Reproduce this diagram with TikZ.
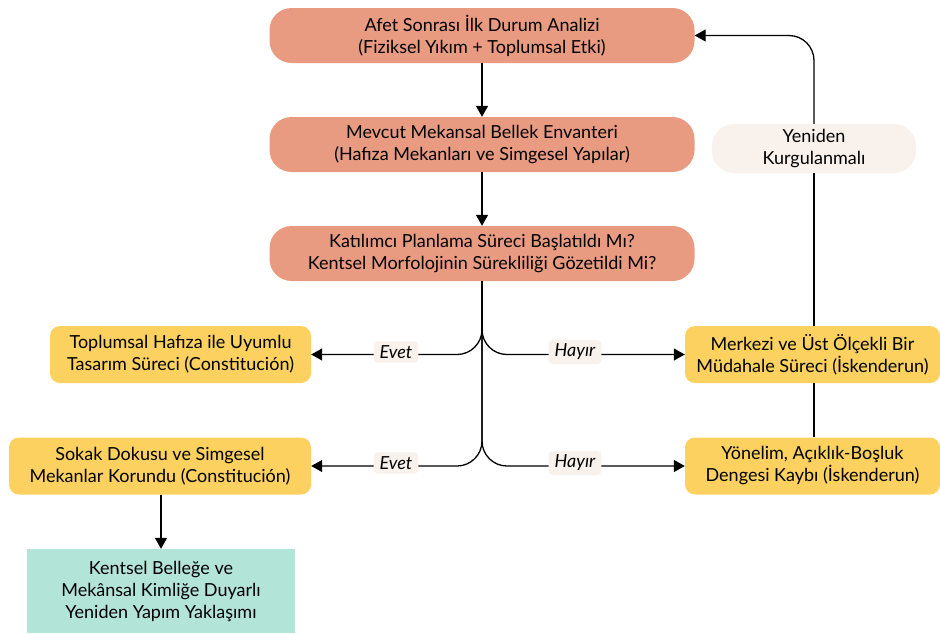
\documentclass[tikz,border=0pt]{standalone}
\usepackage{fontspec}
\setmainfont{Lato}
\usetikzlibrary{arrows.meta,positioning}
\definecolor{salmon}{HTML}{E99B82}
\definecolor{gold}{HTML}{FCD15F}
\definecolor{mint}{HTML}{B3E4D8}
\definecolor{cream}{HTML}{F8F1EC}
\begin{document}
\begin{tikzpicture}[x=1pt,y=-1pt,
  font=\fontsize{18}{22}\selectfont,
  topbox/.style={fill=salmon,rounded corners=22pt,minimum width=425pt,minimum height=55pt,align=center,inner sep=0pt},
  sidebox/.style={fill=gold,rounded corners=10pt,minimum height=57pt,align=center,inner sep=0pt},
  endbox/.style={fill=mint,minimum width=268pt,minimum height=84pt,align=center,inner sep=0pt},
  loopbox/.style={fill=cream,rounded corners=22pt,minimum width=204pt,minimum height=49pt,align=center,inner sep=0pt},
  lbl/.style={fill=cream,rounded corners=4pt,font=\fontsize{18}{20}\selectfont\itshape,inner xsep=6pt,inner ysep=4pt},
  arr/.style={line width=1.3pt,-{Triangle[length=11pt,width=12pt]}},
  ln/.style={line width=1.3pt}]
\useasboundingbox (0,0) rectangle (940,633);
\node[topbox] (A) at (482,35.5) {Afet Sonrası İlk Durum Analizi\\(Fiziksel Yıkım + Toplumsal Etki)};
\node[topbox] (B) at (482,144.5) {Mevcut Mekansal Bellek Envanteri\\(Hafıza Mekanları ve Simgesel Yapılar)};
\node[topbox] (C) at (482,253.5) {Katılımcı Planlama Süreci Başlatıldı Mı?\\Kentsel Morfolojinin Sürekliliği Gözetildi Mi?};
\node[sidebox,minimum width=261pt] (D) at (180.5,354.5) {Toplumsal Hafıza ile Uyumlu\\Tasarım Süreci (Constitución)};
\node[sidebox,minimum width=302pt] (E) at (160,466) {Sokak Dokusu ve Simgesel\\Mekanlar Korundu (Constitución)};
\node[sidebox,minimum width=255pt] (F) at (812.5,354.5) {Merkezi ve Üst Ölçekli Bir\\Müdahale Süreci (İskenderun)};
\node[sidebox,minimum width=255pt] (G) at (812.5,466) {Yönelim, Açıklık-Boşluk\\Dengesi Kaybı (İskenderun)};
\node[endbox] (H) at (161,591) {Kentsel Belleğe ve\\Mekânsal Kimliğe Duyarlı\\Yeniden Yapım Yaklaşımı};
\node[loopbox] (Y) at (814,148.5) {Yeniden\\Kurgulanmalı};
\draw[arr] (A) -- (B);
\draw[arr] (B) -- (C);
\draw[arr,rounded corners=25pt] (C.south) |- (D.east);
\draw[arr,rounded corners=25pt] (C.south) |- (F.west);
\draw[arr,rounded corners=25pt] (C.south) |- (E.east);
\draw[arr,rounded corners=25pt] (C.south) |- (G.west);
\node[lbl] (l1) at (396,352) {Evet};
\node[lbl] (l2) at (575,352) {Hayır};
\node[lbl] (l3) at (396,463) {Evet};
\node[lbl] (l4) at (575,463) {Hayır};
\draw[arr] (E.south -| H.north) -- (H.north);
\draw[ln] (G.north -| Y.south) -- (F.south -| Y.south);
\draw[ln] (F.north -| Y.south) -- (Y.south);
\draw[arr,rounded corners=25pt] (Y.north) |- (A.east);
\end{tikzpicture}
\end{document}
